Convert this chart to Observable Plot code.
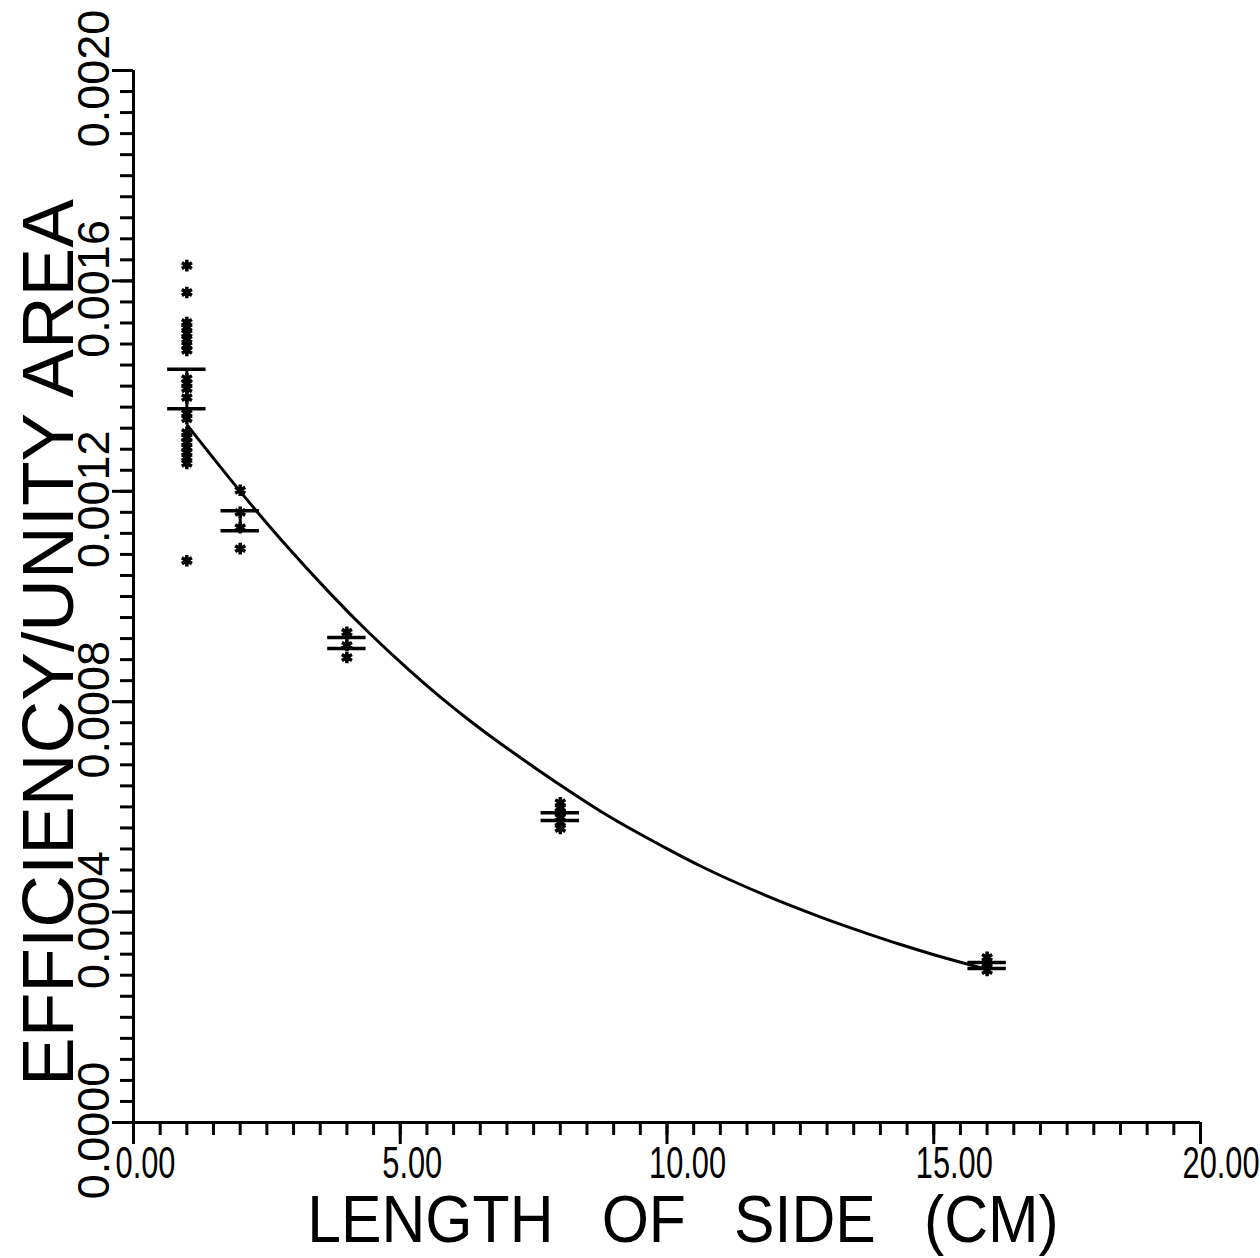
<!DOCTYPE html>
<html>
<head>
<meta charset="utf-8">
<script src="https://cdn.jsdelivr.net/npm/d3@7"></script>
<script src="https://cdn.jsdelivr.net/npm/@observablehq/plot@0.6"></script>
<style>
  html, body { margin: 0; padding: 0; background: #fff; }
  #chart svg { display: block; }
</style>
</head>
<body>
<div id="chart"></div>
<script>
// ---- data ----
const lengths = [1, 2, 4, 8, 16];
const starsAt1 = [0.001629, 0.001578, 0.001521, 0.001511, 0.001500, 0.001489, 0.001477, 0.001468,
                  0.001414, 0.001405, 0.001395, 0.001378, 0.001348, 0.001338, 0.001312, 0.001302,
                  0.001293, 0.001283, 0.001274, 0.001264, 0.001253, 0.001068];
const starsAt2 = [0.001202, 0.001160, 0.001131, 0.001091];
const starsAt4 = [0.000932, 0.000907, 0.000884];
const starsAt8 = [0.000608, 0.000598, 0.000589, 0.000580, 0.000570, 0.000559];
const starsAt16 = [0.000314, 0.000302, 0.000289];
const barHigh = [0.001432, 0.001163, 0.000922, 0.000589, 0.000304];
const barLow  = [0.001357, 0.001125, 0.000901, 0.000574, 0.000293];
const curveX = [1.012, 2.006, 2.755, 3.749, 4.386, 5.192, 5.754, 6.373, 6.879, 7.498, 8.135, 8.754,
                9.372, 10.009, 10.628, 11.246, 11.884, 12.502, 13.121, 13.758, 14.377, 14.995, 15.558, 16.0];
const curveY = [0.001325, 0.001198, 0.001108, 0.000998, 0.000933, 0.000857, 0.000808, 0.000758, 0.000720,
                0.000676, 0.000632, 0.000591, 0.000555, 0.000520, 0.000487, 0.000458, 0.000430, 0.000405,
                0.000381, 0.000359, 0.000338, 0.000319, 0.000303, 0.000291];
const xTicks = [0, 5, 10, 15, 20];
const xTickLabels = ["0.00", "5.00", "10.00", "15.00", "20.00"];
const yTicks = [0, 0.0004, 0.0008, 0.0012, 0.0016, 0.0020];
const yTickLabels = ["0.0000", "0.0004", "0.0008", "0.0012", "0.0016", "0.0020"];
const xTitle = "LENGTH OF SIDE (CM)";
const yTitle = "EFFICIENCY/UNITY AREA";

// ---- derived tables ----
const starGroups = [starsAt1, starsAt2, starsAt4, starsAt8, starsAt16];
const stars = starGroups.flatMap((vals, i) => vals.map(v => ({x: lengths[i], y: v})));
const bars = lengths.map((x, i) => ({x, hi: barHigh[i], lo: barLow[i]}));
const barEnds = bars.flatMap(b => [{x: b.x, y: b.hi}, {x: b.x, y: b.lo}]);
const curve = curveX.map((x, i) => ({x, y: curveY[i]}));
const xMinor = d3.range(0, 20.001, 0.5);
const yMinor = d3.range(0, 0.0020001, 0.00004);
const halfBar = 0.36;

const font = "'Liberation Sans', Arial, sans-serif";

const chart = Plot.plot({
  width: 1260,
  height: 1258,
  marginLeft: 133,
  marginRight: 60,
  marginTop: 70,
  marginBottom: 136,
  style: {fontFamily: font, background: "#fff", color: "#000"},
  x: {type: "linear", domain: [0, 20], axis: null},
  y: {type: "linear", domain: [0, 0.0020], axis: null},
  marks: [
    // axis lines
    Plot.ruleY([0], {x1: 0, x2: 20, stroke: "#000", strokeWidth: 3}),
    Plot.ruleX([0], {y1: 0, y2: 0.0020, stroke: "#000", strokeWidth: 3}),
    // ticks
    Plot.axisX({ticks: xMinor, tickSize: 13, tickFormat: () => "", strokeWidth: 3, anchor: "bottom", label: null}),
    Plot.axisX({ticks: xTicks, tickSize: 22, tickFormat: () => "", strokeWidth: 3, anchor: "bottom", label: null}),
    Plot.axisY({ticks: yMinor, tickSize: 13, tickFormat: () => "", strokeWidth: 3, anchor: "left", label: null}),
    Plot.axisY({ticks: yTicks, tickSize: 21, tickFormat: () => "", strokeWidth: 3, anchor: "left", label: null}),
    // x tick labels
    Plot.text(xTicks, {x: d => d, y: () => 0, text: (d, i) => xTickLabels[i], textAnchor: "start", lineAnchor: "middle",
      dx: -18, dy: 41, fontSize: 44, fill: "#000", className: "narrow"}),
    // y tick labels
    Plot.text(yTicks, {x: () => 0, y: d => d, text: (d, i) => yTickLabels[i], rotate: -90, textAnchor: "middle",
      lineAnchor: "middle", dx: -39, dy: 8, fontSize: 45, fill: "#000"}),
    // titles
    Plot.text([xTitle], {frameAnchor: "bottom", text: d => d, lineAnchor: "bottom", dx: 16, dy: 119,
      fontSize: 66, fill: "#000", className: "xtitle"}),
    Plot.text([yTitle], {frameAnchor: "left", text: d => d, rotate: -90, textAnchor: "middle", lineAnchor: "middle",
      dx: -84, dy: 46, fontSize: 73, fill: "#000", className: "ytitle"}),
    // fitted curve
    Plot.line(curve, {x: "x", y: "y", curve: "basis", stroke: "#000", strokeWidth: 3}),
    // error bars
    Plot.ruleX(bars, {x: "x", y1: "lo", y2: "hi", stroke: "#000", strokeWidth: 3}),
    Plot.ruleY(barEnds, {y: "y", x1: d => d.x - halfBar, x2: d => d.x + halfBar, stroke: "#000", strokeWidth: 3.5}),
    // measurements
    Plot.dot(stars, {x: "x", y: "y", symbol: "asterisk", r: 5.5, stroke: "#000", strokeWidth: 3.5})
  ]
});

// narrow the plotter-style lettering along the text direction, keeping each anchor fixed
function narrow(sel, k) {
  chart.querySelectorAll(sel).forEach(t => {
    const x = parseFloat(t.getAttribute("x")) || 0;
    const tr = t.getAttribute("transform") || "";
    t.setAttribute("transform", `${tr} translate(${x},0) scale(${k},1) translate(${-x},0)`);
  });
}
narrow(".narrow text", 0.7);
narrow(".xtitle text", 0.92);
chart.querySelectorAll(".xtitle text").forEach(t => t.style.wordSpacing = "34px");
document.getElementById("chart").appendChild(chart);
</script>
</body>
</html>
